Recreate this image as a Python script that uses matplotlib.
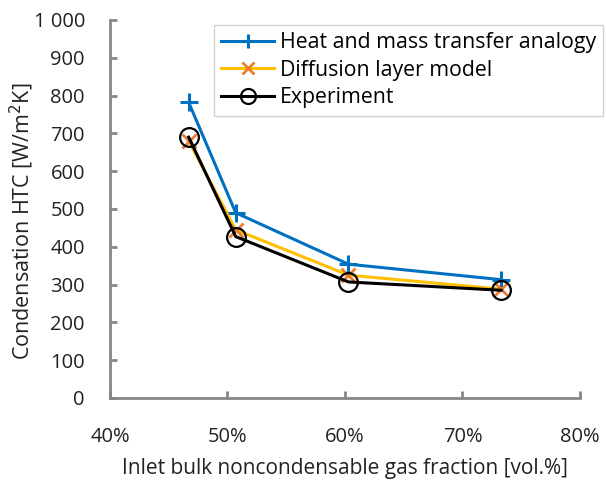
import matplotlib.pyplot as plt
from matplotlib.ticker import FuncFormatter

plt.rcParams['font.family'] = ['Open Sans', 'DejaVu Sans']

gas_fraction = [46.7, 50.7, 60.3, 73.3]
htc_analogy = [782, 490, 354, 313]
htc_diffusion = [680, 445, 325, 288]
htc_experiment = [690, 427, 307, 285]

fig = plt.figure(figsize=(6.06, 4.83), dpi=100)
ax = fig.add_axes([0.1815, 0.176, 0.7755, 0.7826])

ax.plot(gas_fraction, htc_analogy, color="#0070C0", lw=2.2, marker="+",
        ms=13, mew=2.2, label="Heat and mass transfer analogy")
ax.plot(gas_fraction, htc_diffusion, color="#FFC000", lw=2.2, marker="x",
        ms=10, mew=2, mec="#ED7D31", label="Diffusion layer model")
ax.plot(gas_fraction, htc_experiment, color="black", lw=2.2, marker="o",
        ms=13.5, mew=1.6, mfc="none", mec="black", label="Experiment")

ax.set_xlim(40, 80)
ax.set_ylim(0, 1000)
ax.set_xticks([40, 50, 60, 70, 80])
ax.set_yticks(range(0, 1001, 100))
ax.xaxis.set_major_formatter(FuncFormatter(lambda v, p: f"{v:.0f}%"))
ax.yaxis.set_major_formatter(
    FuncFormatter(lambda v, p: f"{v:,.0f}".replace(",", " ")))

for side in ("top", "right"):
    ax.spines[side].set_visible(False)
for side in ("left", "bottom"):
    ax.spines[side].set_color("#868686")
    ax.spines[side].set_linewidth(2)
ax.tick_params(direction="in", length=5, width=2, color="#868686",
               labelsize=14.5, labelcolor="#222222")
ax.tick_params(axis="y", pad=18)
ax.tick_params(axis="x", pad=21)

ax.set_xlabel("Inlet bulk noncondensable gas fraction [vol.%]", fontsize=15,
              color="#222222", labelpad=8)
ax.set_ylabel("Condensation HTC [W/m$^2$K]", fontsize=15.5, color="#222222")
ax.yaxis.set_label_coords(-0.157, 0.468)

leg = ax.legend(loc="upper left", bbox_to_anchor=(0.221, 0.987), fontsize=15.3,
                frameon=True, fancybox=False, edgecolor="#c8c8c8",
                handlelength=2.5, handletextpad=0.25, borderpad=0.35,
                labelspacing=0.3, borderaxespad=0, markerscale=0.8)
leg.get_frame().set_linewidth(1)

fig.savefig("out.png", dpi=100)
